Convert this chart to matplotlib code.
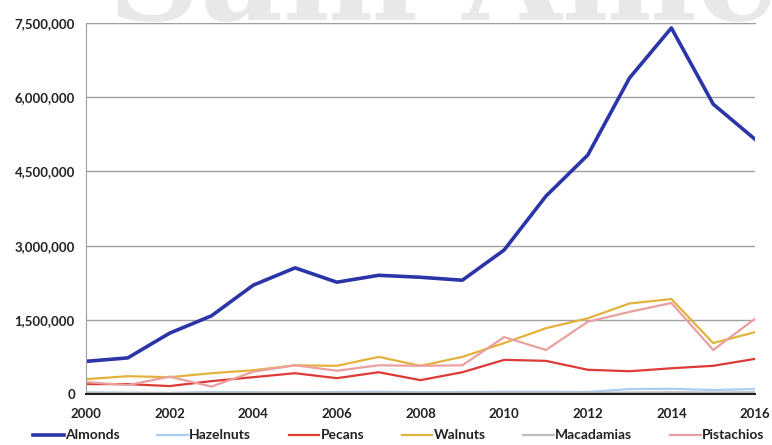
import numpy as np
import matplotlib.pyplot as plt
from matplotlib.ticker import FuncFormatter

# Annual production by nut type (pounds)

years = list(range(2000, 2017))
almonds = [660000, 730000, 1230000, 1580000, 2200000, 2550000, 2260000, 2400000, 2360000,
           2300000, 2910000, 4000000, 4830000, 6390000, 7400000, 5860000, 5150000]
hazelnuts = [30000, 25000, 22000, 40000, 35000, 30000, 40000, 45000, 35000,
             40000, 45000, 45000, 40000, 100000, 105000, 80000, 100000]
pecans = [200000, 200000, 160000, 260000, 340000, 420000, 320000, 440000, 280000,
          440000, 690000, 670000, 490000, 460000, 520000, 570000, 710000]
walnuts = [300000, 360000, 340000, 420000, 480000, 580000, 570000, 750000, 570000,
           750000, 1030000, 1330000, 1530000, 1830000, 1920000, 1030000, 1250000]
macadamias = [25000, 22000, 20000, 25000, 28000, 30000, 25000, 28000, 25000,
              25000, 28000, 30000, 25000, 30000, 35000, 30000, 35000]
pistachios = [240000, 180000, 350000, 150000, 450000, 580000, 470000, 580000, 570000,
              580000, 1150000, 890000, 1460000, 1660000, 1840000, 890000, 1520000]

series = [("Almonds", almonds, "#2b35a8", 2.6),
          ("Hazelnuts", hazelnuts, "#a9cdf5", 1.6),
          ("Pecans", pecans, "#dd3b35", 1.6),
          ("Walnuts", walnuts, "#e3b23c", 1.6),
          ("Macadamias", macadamias, "#bdbdbd", 1.6),
          ("Pistachios", pistachios, "#eaa0a0", 1.6)]

plt.rcParams['font.family'] = ['Lato', 'DejaVu Sans']

fig = plt.figure(figsize=(7.72, 4.45), dpi=100)
ax = fig.add_axes([86/772, 1 - 394/445, (755 - 86)/772, (394 - 23)/445])

# faint watermark behind the chart
fig.text(0.14, 0.955, "Sam Amen", fontsize=92, family="DejaVu Serif", weight="bold",
         color="#e8e8e8", ha="left", va="baseline", zorder=0)

for name, vals, col, lw in series:
    ax.plot(years, vals, color=col, lw=lw, label=name, solid_joinstyle="round")

ax.set_xlim(2000, 2016)
ax.set_ylim(0, 7500000)
ax.set_xticks(range(2000, 2017, 2))
ax.set_yticks(np.arange(0, 7500001, 1500000))
ax.yaxis.set_major_formatter(FuncFormatter(lambda v, p: f"{int(v):,}"))
ax.tick_params(length=0, labelsize=9.5, colors="#222222")
ax.tick_params(axis="x", pad=10)
ax.tick_params(axis="y", pad=8)
for lab in ax.get_xticklabels() + ax.get_yticklabels():
    lab.set_fontweight("bold")

ax.grid(axis="y", color="#a0a0a0", lw=1)
ax.set_axisbelow(True)
ax.patch.set_alpha(0)
ax.spines["right"].set_visible(False)
ax.spines["top"].set_color("#a0a0a0")
ax.spines["left"].set_color("#a0a0a0")
ax.spines["bottom"].set_color("#222222")
ax.spines["bottom"].set_linewidth(1.5)

leg = fig.legend(loc="lower left", bbox_to_anchor=(33/772, 0.008), ncol=6, frameon=False,
                 borderpad=0, borderaxespad=0,
                 handlelength=2.2, handletextpad=0.1, columnspacing=2.7,
                 prop={"weight": "bold", "size": 10})
for t in leg.get_texts():
    t.set_color("#222222")

fig.savefig("out.png", dpi=100)
